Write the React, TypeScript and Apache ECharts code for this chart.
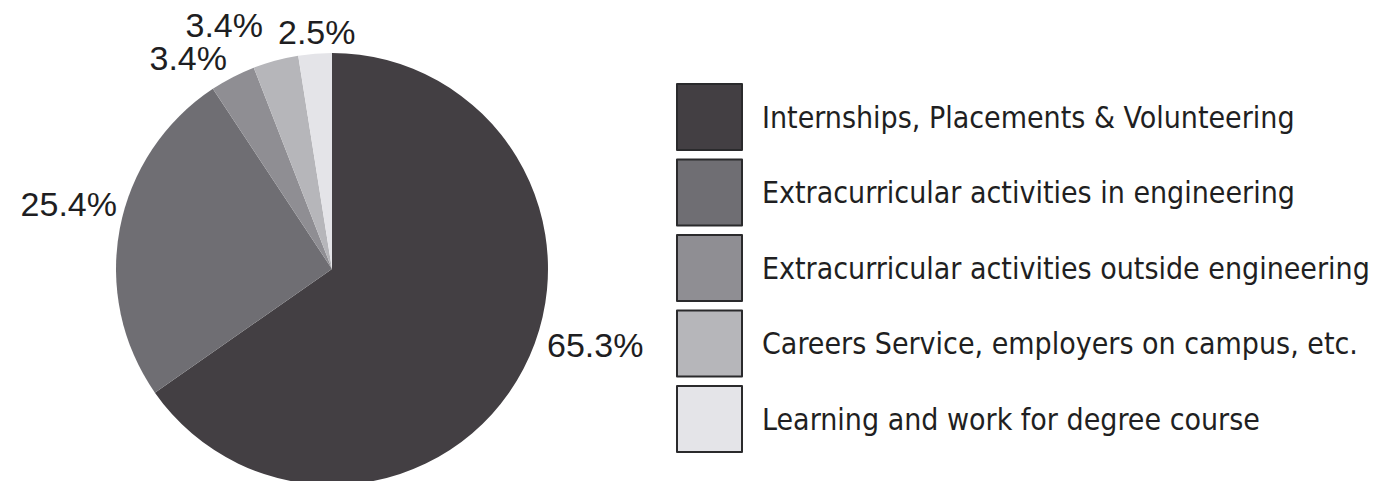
import React, { useEffect, useRef } from "react";
import * as echarts from "echarts";

const categories = [
  "Internships, Placements & Volunteering",
  "Extracurricular activities in engineering",
  "Extracurricular activities outside engineering",
  "Careers Service, employers on campus, etc.",
  "Learning and work for degree course",
];
const values = [65.3, 25.4, 3.4, 3.4, 2.5];
const colors = ["#433f43", "#6f6e73", "#8f8e93", "#b6b6ba", "#e4e4e8"];

// label anchor placement (layout only)
const labelAnchors = [
  { x: 547, y: 345, align: "left" },
  { x: 117, y: 204, align: "right" },
  { x: 227, y: 58, align: "right" },
  { x: 263, y: 25, align: "right" },
  { x: 278, y: 32, align: "left" },
];

export default function App() {
  const ref = useRef<HTMLDivElement>(null);
  useEffect(() => {
    if (!ref.current) return;
    const chart = echarts.init(ref.current, null, { renderer: "svg" });
    chart.setOption({
      animation: false,
      backgroundColor: "#ffffff",
      legend: {
        orient: "vertical",
        left: 671,
        top: 78,
        itemWidth: 65,
        itemHeight: 66,
        itemGap: 7.5,
        icon: "rect",
        selectedMode: false,
        itemStyle: { borderColor: "#2a2a2c", borderWidth: 2 },
        textStyle: {
          fontFamily: "'DejaVu Sans Condensed', 'Liberation Sans Narrow', sans-serif",
          fontSize: 30,
          color: "#1f1f22",
          padding: [0, 0, 0, 15],
        },
        data: categories,
      },
      series: [
        {
          type: "pie",
          center: [332, 269],
          radius: 216,
          startAngle: 90,
          clockwise: true,
          avoidLabelOverlap: false,
          itemStyle: { borderWidth: 0 },
          label: {
            show: true,
            position: "outside",
            formatter: (p: any) => p.value.toFixed(1) + "%",
            fontFamily: "'Liberation Sans', Arial, sans-serif",
            fontSize: 34,
            color: "#1e1e22",
          },
          labelLine: { show: false },
          labelLayout: (p: any) => {
            const a = labelAnchors[p.dataIndex];
            return { x: a.x, y: a.y, align: a.align, verticalAlign: "middle" };
          },
          emphasis: { disabled: true },
          data: categories.map((c, i) => ({
            name: c,
            value: values[i],
            itemStyle: { color: colors[i] },
          })),
        },
      ],
    });
    return () => chart.dispose();
  }, []);
  return (
    <div
      ref={ref}
      style={{ position: "fixed", left: 0, top: 0, width: 1382, height: 481 }}
    />
  );
}
